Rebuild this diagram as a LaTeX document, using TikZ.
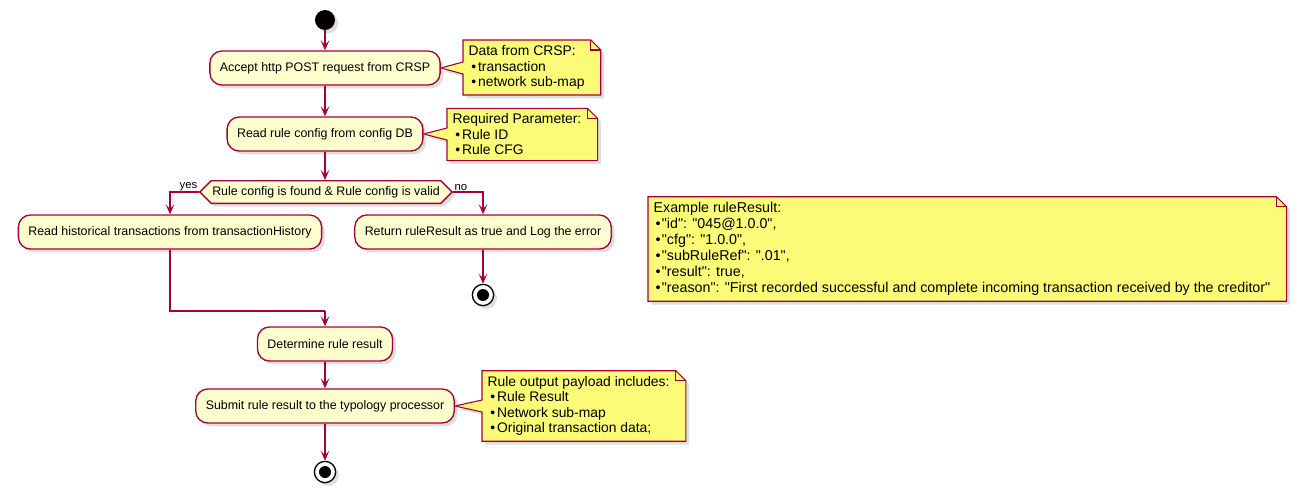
\documentclass[tikz,border=0pt]{standalone}
\usepackage{fontspec}
\setmainfont{Liberation Sans}[Ligatures=TeXOff]
\usetikzlibrary{arrows.meta,shapes.symbols,shadows,backgrounds}
\definecolor{umlred}{HTML}{A80036}
\definecolor{actfill}{HTML}{FEFECE}
\definecolor{notefill}{HTML}{FBFB77}

\begin{document}
\begin{tikzpicture}[
        x=0.75pt, y=-0.75pt,
        font=\fontsize{9.3}{11.6}\selectfont,
        shade/.style={drop shadow={opacity=0.25, shadow xshift=2.5pt, shadow yshift=-2.5pt}},
        action/.style={rectangle, rounded corners=9pt, minimum height=25.5pt, inner xsep=7.5pt, draw=umlred, line width=1pt, fill=actfill, shade},
        decision/.style={signal, signal to=east and west, minimum height=17pt, inner xsep=0.8pt, inner ysep=1pt, draw=umlred, line width=1pt, fill=actfill, shade},
        notetext/.style={align=left, anchor=west, inner xsep=4pt, inner ysep=4pt, font=\fontsize{10.4}{11.6}\selectfont},
        notebody/.style={draw=umlred, line width=0.8pt, fill=notefill, shade},
        fold/.style={draw=umlred, line width=0.8pt},
        arrow/.style={draw=umlred, line width=1pt, -{Stealth[length=7.5pt, width=6.5pt, inset=3.5pt]}},
        link/.style={draw=umlred, line width=1pt},
        lbl/.style={inner sep=1pt, font=\fontsize{8.5}{10}\selectfont},
        startdot/.style={circle, fill=black, minimum size=15pt, inner sep=0pt, shade},
        stopdot/.style={circle, draw=black, line width=1pt, fill=white, minimum size=16pt, inner sep=0pt, shade,
            path picture={\fill[black] (path picture bounding box.center) circle (4.5pt);}}
    ]
        \useasboundingbox (0,0) rectangle (1299,500);

        % Main flow
        \node (start) [startdot] at (325,20) {};
        \node (accept) [action] at (325,68) {Accept http POST request from CRSP};
        \node (readCfg) [action] at (325,134) {Read rule config from config DB};
        \node (cond) [decision] at (326,192) {Rule config is found \& Rule config is valid};

        % Branches
        \node (readHist) [action] at (170,232) {Read historical transactions from transactionHistory};
        \node (retLog) [action] at (483,232) {Return ruleResult as true and Log the error};
        \node (stopNo) [stopdot] at (483,295) {};
        \coordinate (merge) at (325,311);

        \node (determine) [action] at (325,344) {Determine rule result};
        \node (submit) [action] at (325,406) {Submit rule result to the typology processor};
        \node (stopEnd) [stopdot] at (325,472) {};

        % Notes
        \node (dataNote) [notetext] at (463,67.5) {Data from CRSP:\\ \hspace{2pt}\textbullet\hspace{1.5pt}transaction\\ \hspace{2pt}\textbullet\hspace{1.5pt}network sub-map};
        \node (paramNote) [notetext] at (447,134.5) {Required Parameter:\\ \hspace{2pt}\textbullet\hspace{1.5pt}Rule ID\\ \hspace{2pt}\textbullet\hspace{1.5pt}Rule CFG};
        \node (outputNote) [notetext] at (482,406) {Rule output payload includes:\\ \hspace{2pt}\textbullet\hspace{1.5pt}Rule Result\\ \hspace{2pt}\textbullet\hspace{1.5pt}Network sub-map\\ \hspace{2pt}\textbullet\hspace{1.5pt}Original transaction data;};
        \node (resultNote) [notetext, font=\fontsize{10.7}{12}\selectfont] at (648,249) {Example ruleResult:\\
            \hspace{1.5pt}\textbullet\hspace{1pt}"id": "045@1.0.0",\\
            \hspace{1.5pt}\textbullet\hspace{1pt}"cfg": "1.0.0",\\
            \hspace{1.5pt}\textbullet\hspace{1pt}"subRuleRef": ".01",\\
            \hspace{1.5pt}\textbullet\hspace{1pt}"result": true,\\
            \hspace{1.5pt}\textbullet\hspace{1pt}"reason": "First recorded successful and complete incoming transaction received by the creditor"};

        \begin{pgfonlayer}{background}
            \foreach \n/\a in {dataNote/accept, paramNote/readCfg, outputNote/submit} {
                \draw[notebody] (\n.north west) -- ([xshift=0.5pt]\n.north east) -- ([xshift=8pt, yshift=-7.5pt]\n.north east)
                    -- ([xshift=8pt]\n.south east) -- (\n.south west) -- ([yshift=-4.5pt]\n.west |- \a.east)
                    -- (\a.east) -- ([yshift=4.5pt]\n.west |- \a.east) -- cycle;
                \draw[fold] ([xshift=0.5pt]\n.north east) |- ([xshift=8pt, yshift=-7.5pt]\n.north east);
            }
            \draw[notebody] (resultNote.north west) -- ([xshift=0.5pt]resultNote.north east) -- ([xshift=8pt, yshift=-7.5pt]resultNote.north east)
                -- ([xshift=8pt]resultNote.south east) -- (resultNote.south west) -- cycle;
            \draw[fold] ([xshift=0.5pt]resultNote.north east) |- ([xshift=8pt, yshift=-7.5pt]resultNote.north east);
        \end{pgfonlayer}

        % Connections
        \draw[arrow] (start) -- (accept);
        \draw[arrow] (accept) -- (readCfg);
        \draw[arrow] (readCfg.south) -- (readCfg.south |- cond.north);
        \draw[arrow] (cond.west) -| (readHist.north);
        \draw[arrow] (cond.east) -| (retLog.north);
        \node [lbl, anchor=south east] at (cond.west) {yes};
        \node [lbl, anchor=south west] at (cond.east) {no};
        \draw[arrow] (retLog) -- (stopNo);
        \draw[link] (readHist.south) |- (merge);
        \draw[arrow] (merge) -- (determine.north);
        \draw[arrow] (determine) -- (submit);
        \draw[arrow] (submit) -- (stopEnd);
    \end{tikzpicture}
\end{document}
